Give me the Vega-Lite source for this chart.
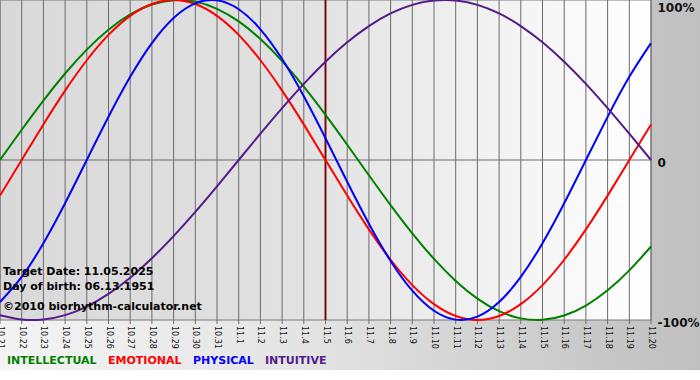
{
  "$schema": "https://vega.github.io/schema/vega-lite/v6.json",
  "width": 651,
  "height": 320,
  "autosize": {"type": "none"},
  "padding": {"left": 0, "top": 0, "right": 49, "bottom": 50},
  "background": "white",
  "datasets": {
    "days": [
      {"day": 0, "date": "10.21", "INTELLECTUAL": 0, "EMOTIONAL": -0.2225, "PHYSICAL": -0.8879, "INTUITIVE": -0.9694},
      {"day": 1, "date": "10.22", "INTELLECTUAL": 0.1893, "EMOTIONAL": 0, "PHYSICAL": -0.7308, "INTUITIVE": -0.9966},
      {"day": 2, "date": "10.23", "INTELLECTUAL": 0.3717, "EMOTIONAL": 0.2225, "PHYSICAL": -0.5197, "INTUITIVE": -0.9966},
      {"day": 3, "date": "10.24", "INTELLECTUAL": 0.5406, "EMOTIONAL": 0.4339, "PHYSICAL": -0.2698, "INTUITIVE": -0.9694},
      {"day": 4, "date": "10.25", "INTELLECTUAL": 0.6901, "EMOTIONAL": 0.6235, "PHYSICAL": 0, "INTUITIVE": -0.9158},
      {"day": 5, "date": "10.26", "INTELLECTUAL": 0.8146, "EMOTIONAL": 0.7818, "PHYSICAL": 0.2698, "INTUITIVE": -0.8372},
      {"day": 6, "date": "10.27", "INTELLECTUAL": 0.9096, "EMOTIONAL": 0.901, "PHYSICAL": 0.5197, "INTUITIVE": -0.7357},
      {"day": 7, "date": "10.28", "INTELLECTUAL": 0.9718, "EMOTIONAL": 0.9749, "PHYSICAL": 0.7308, "INTUITIVE": -0.6142},
      {"day": 8, "date": "10.29", "INTELLECTUAL": 0.9989, "EMOTIONAL": 1, "PHYSICAL": 0.8879, "INTUITIVE": -0.4759},
      {"day": 9, "date": "10.30", "INTELLECTUAL": 0.9898, "EMOTIONAL": 0.9749, "PHYSICAL": 0.9791, "INTUITIVE": -0.3247},
      {"day": 10, "date": "10.31", "INTELLECTUAL": 0.945, "EMOTIONAL": 0.901, "PHYSICAL": 0.9977, "INTUITIVE": -0.1646},
      {"day": 11, "date": "11.1", "INTELLECTUAL": 0.866, "EMOTIONAL": 0.7818, "PHYSICAL": 0.9423, "INTUITIVE": 0},
      {"day": 12, "date": "11.2", "INTELLECTUAL": 0.7557, "EMOTIONAL": 0.6235, "PHYSICAL": 0.817, "INTUITIVE": 0.1646},
      {"day": 13, "date": "11.3", "INTELLECTUAL": 0.6182, "EMOTIONAL": 0.4339, "PHYSICAL": 0.6311, "INTUITIVE": 0.3247},
      {"day": 14, "date": "11.4", "INTELLECTUAL": 0.4582, "EMOTIONAL": 0.2225, "PHYSICAL": 0.3984, "INTUITIVE": 0.4759},
      {"day": 15, "date": "11.5", "INTELLECTUAL": 0.2817, "EMOTIONAL": 0, "PHYSICAL": 0.1362, "INTUITIVE": 0.6142},
      {"day": 16, "date": "11.6", "INTELLECTUAL": 0.0951, "EMOTIONAL": -0.2225, "PHYSICAL": -0.1362, "INTUITIVE": 0.7357},
      {"day": 17, "date": "11.7", "INTELLECTUAL": -0.0951, "EMOTIONAL": -0.4339, "PHYSICAL": -0.3984, "INTUITIVE": 0.8372},
      {"day": 18, "date": "11.8", "INTELLECTUAL": -0.2817, "EMOTIONAL": -0.6235, "PHYSICAL": -0.6311, "INTUITIVE": 0.9158},
      {"day": 19, "date": "11.9", "INTELLECTUAL": -0.4582, "EMOTIONAL": -0.7818, "PHYSICAL": -0.817, "INTUITIVE": 0.9694},
      {"day": 20, "date": "11.10", "INTELLECTUAL": -0.6182, "EMOTIONAL": -0.901, "PHYSICAL": -0.9423, "INTUITIVE": 0.9966},
      {"day": 21, "date": "11.11", "INTELLECTUAL": -0.7557, "EMOTIONAL": -0.9749, "PHYSICAL": -0.9977, "INTUITIVE": 0.9966},
      {"day": 22, "date": "11.12", "INTELLECTUAL": -0.866, "EMOTIONAL": -1, "PHYSICAL": -0.9791, "INTUITIVE": 0.9694},
      {"day": 23, "date": "11.13", "INTELLECTUAL": -0.945, "EMOTIONAL": -0.9749, "PHYSICAL": -0.8879, "INTUITIVE": 0.9158},
      {"day": 24, "date": "11.14", "INTELLECTUAL": -0.9898, "EMOTIONAL": -0.901, "PHYSICAL": -0.7308, "INTUITIVE": 0.8372},
      {"day": 25, "date": "11.15", "INTELLECTUAL": -0.9989, "EMOTIONAL": -0.7818, "PHYSICAL": -0.5197, "INTUITIVE": 0.7357},
      {"day": 26, "date": "11.16", "INTELLECTUAL": -0.9718, "EMOTIONAL": -0.6235, "PHYSICAL": -0.2698, "INTUITIVE": 0.6142},
      {"day": 27, "date": "11.17", "INTELLECTUAL": -0.9096, "EMOTIONAL": -0.4339, "PHYSICAL": 0, "INTUITIVE": 0.4759},
      {"day": 28, "date": "11.18", "INTELLECTUAL": -0.8146, "EMOTIONAL": -0.2225, "PHYSICAL": 0.2698, "INTUITIVE": 0.3247},
      {"day": 29, "date": "11.19", "INTELLECTUAL": -0.6901, "EMOTIONAL": 0, "PHYSICAL": 0.5197, "INTUITIVE": 0.1646},
      {"day": 30, "date": "11.20", "INTELLECTUAL": -0.5406, "EMOTIONAL": 0.2225, "PHYSICAL": 0.7308, "INTUITIVE": 0}
    ],
    "notes": [
      {"text": "Target Date: 11.05.2025", "v": -0.698},
      {"text": "Day of birth: 06.13.1951", "v": -0.794},
      {"text": "\u00a92010 biorhythm-calculator.net", "v": -0.919}
    ]
  },
  "layer": [
    {
      "data": {"values": [{}]},
      "mark": {"type": "rect", "clip": false, "color": {"gradient": "linear", "x1": 0, "x2": 1, "y1": 0, "y2": 0, "stops": [{"offset": 0, "color": "#f4f4f4"}, {"offset": 0.43, "color": "#e4e4e4"}, {"offset": 0.93, "color": "#c3c3c3"}, {"offset": 1, "color": "#c0c0c0"}]}},
      "encoding": {
        "x": {"datum": 0, "type": "quantitative", "scale": {"domain": [0, 30], "nice": false, "zero": false}, "title": null},
        "x2": {"datum": 32.3},
        "y": {"datum": 1, "type": "quantitative", "scale": {"domain": [-1, 1], "nice": false, "zero": false}, "title": null},
        "y2": {"datum": -1.3125}
      }
    },
    {
      "data": {"values": [{}]},
      "mark": {"type": "rect", "stroke": "#7a7a7a", "strokeWidth": 1, "color": {"gradient": "linear", "x1": 0, "x2": 1, "y1": 0, "y2": 0, "stops": [{"offset": 0, "color": "#d9d9d9"}, {"offset": 0.45, "color": "#e1e1e1"}, {"offset": 0.7, "color": "#efefef"}, {"offset": 1, "color": "#ffffff"}]}},
      "encoding": {
        "x": {"datum": 0, "type": "quantitative"},
        "x2": {"datum": 30},
        "y": {"datum": 1, "type": "quantitative"},
        "y2": {"datum": -1}
      }
    },
    {
      "data": {"name": "days"},
      "mark": {"type": "rule", "color": "#6c6c6c", "strokeWidth": 1, "clip": false},
      "encoding": {
        "x": {"field": "day", "type": "quantitative"},
        "y": {"datum": 1, "type": "quantitative"},
        "y2": {"datum": -1.025}
      }
    },
    {
      "data": {"name": "days"},
      "mark": {"type": "text", "angle": 90, "align": "left", "baseline": "middle", "dx": 6, "font": "DejaVu Sans", "fontSize": 8, "color": "#111111", "clip": false},
      "encoding": {
        "x": {"field": "day", "type": "quantitative"},
        "y": {"datum": -1, "type": "quantitative"},
        "text": {"field": "date"}
      }
    },
    {
      "data": {"values": [{}]},
      "mark": {"type": "rule", "color": "#6c6c6c", "strokeWidth": 1},
      "encoding": {
        "x": {"datum": 0, "type": "quantitative"},
        "x2": {"datum": 30},
        "y": {"datum": 0, "type": "quantitative"}
      }
    },
    {
      "data": {"values": [{}]},
      "mark": {"type": "rule", "color": "#7a0a0a", "strokeWidth": 2},
      "encoding": {
        "x": {"datum": 15, "type": "quantitative"},
        "y": {"datum": 1, "type": "quantitative"},
        "y2": {"datum": -1}
      }
    },
    {
      "data": {"name": "days"},
      "transform": [{"fold": ["INTELLECTUAL", "EMOTIONAL", "PHYSICAL", "INTUITIVE"], "as": ["key", "value"]}],
      "mark": {"type": "line", "strokeWidth": 2, "interpolate": "natural"},
      "encoding": {
        "x": {"field": "day", "type": "quantitative", "title": null},
        "y": {
          "field": "value", "type": "quantitative", "title": null,
          "axis": {
            "orient": "right", "values": [1, 0, -1],
            "labelExpr": "datum.value == 1 ? '100%' : (datum.value == -1 ? '-100%' : '0')",
            "labelFont": "DejaVu Sans", "labelFontSize": 12, "labelFontWeight": "bold", "labelColor": "#111111",
            "labelBaseline": {"condition": {"test": "datum.value == 1", "value": "top"}, "value": "middle"},
            "labelOffset": 2, "labelPadding": 6, "labelFlush": false, "labelOverlap": false,
            "ticks": false, "domain": false, "grid": false, "zindex": 1
          }
        },
        "color": {
          "field": "key", "type": "nominal",
          "scale": {"domain": ["INTELLECTUAL", "EMOTIONAL", "PHYSICAL", "INTUITIVE"], "range": ["#008000", "#ff0000", "#0000ff", "#551a8b"]},
          "legend": {
            "orient": "none", "legendX": -4, "legendY": 355, "direction": "horizontal",
            "title": null, "symbolSize": 0, "symbolOpacity": 0, "symbolStrokeWidth": 0,
            "labelOffset": 0, "columnPadding": -4,
            "labelFont": "DejaVu Sans", "labelFontSize": 11, "labelFontWeight": "bold",
            "zindex": 1,
            "encode": {"labels": {"update": {"fill": {"scale": "color", "field": "value"}}}}
          }
        }
      }
    },
    {
      "data": {"name": "notes"},
      "mark": {"type": "text", "align": "left", "baseline": "middle", "dx": 3, "font": "DejaVu Sans", "fontSize": 11, "fontWeight": "bold", "color": "#000000"},
      "encoding": {
        "x": {"datum": 0, "type": "quantitative"},
        "y": {"field": "v", "type": "quantitative"},
        "text": {"field": "text"}
      }
    }
  ],
  "config": {
    "view": {"stroke": null},
    "axis": {"zindex": 1},
    "axisX": {"disable": true}
  }
}
